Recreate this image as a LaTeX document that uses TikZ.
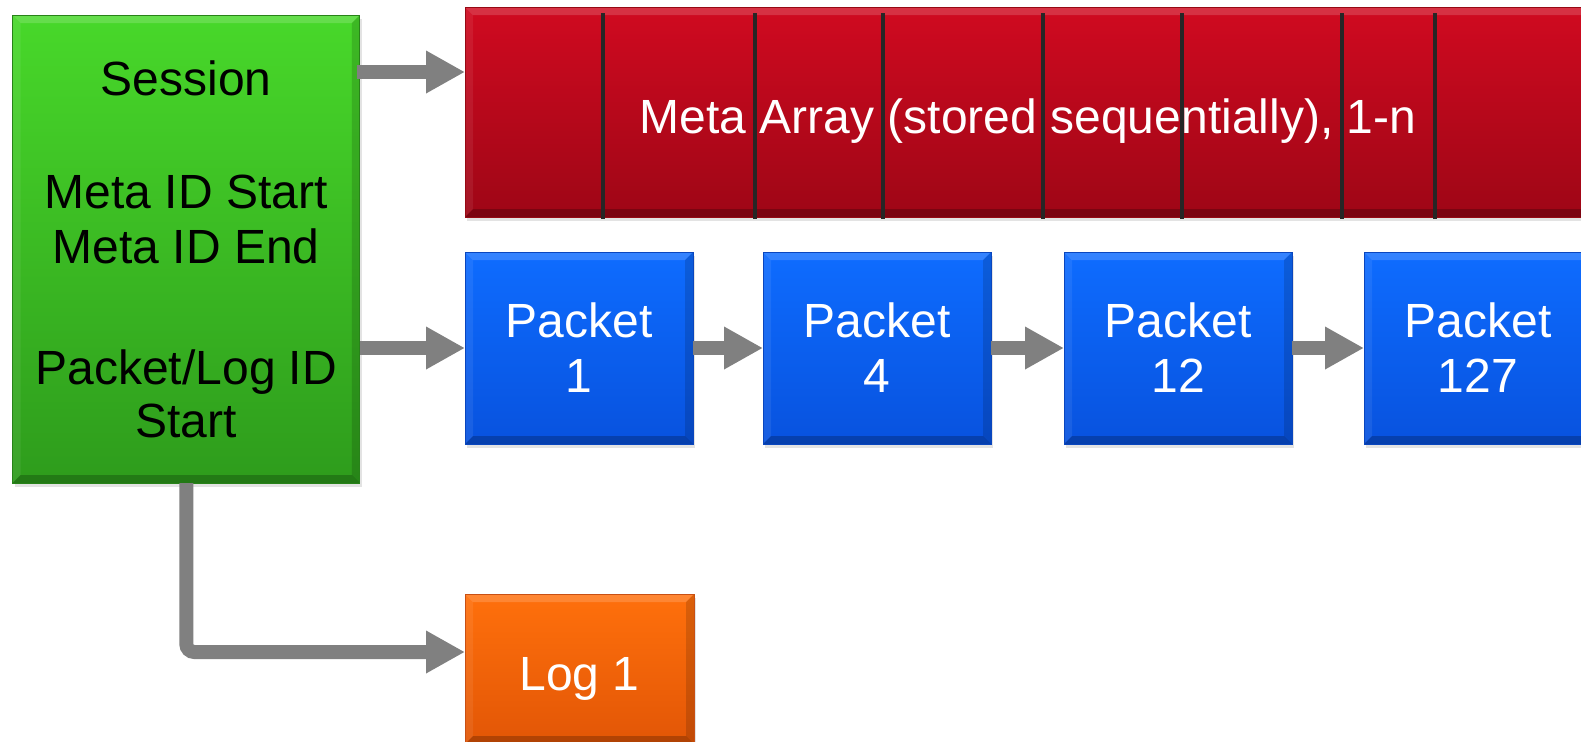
\documentclass[tikz,border=0pt]{standalone}
\usepackage{fontspec}
\setmainfont{Liberation Sans}
\usetikzlibrary{arrows.meta,shadows}
\definecolor{grnT}{RGB}{72,216,42}
\definecolor{grnB}{RGB}{46,156,28}
\definecolor{grnE}{RGB}{40,130,25}
\definecolor{redT}{RGB}{208,10,32}
\definecolor{redB}{RGB}{158,6,22}
\definecolor{redE}{RGB}{150,10,20}
\definecolor{bluT}{RGB}{14,108,255}
\definecolor{bluB}{RGB}{8,82,222}
\definecolor{bluE}{RGB}{10,70,190}
\definecolor{orgT}{RGB}{255,112,12}
\definecolor{orgB}{RGB}{226,86,6}
\definecolor{orgE}{RGB}{200,80,20}
\definecolor{arrgray}{RGB}{128,128,128}
\definecolor{divcol}{RGB}{38,38,38}
\tikzset{
  bevel/.style={path picture={
    \path (path picture bounding box.south west) coordinate (pSW)
          (path picture bounding box.north east) coordinate (pNE)
          (path picture bounding box.north west) coordinate (pNW)
          (path picture bounding box.south east) coordinate (pSE);
    \fill[white,opacity=.16] (pNW) -- (pNE) -- ([shift={(-4pt,-4pt)}]pNE) -- ([shift={(4pt,-4pt)}]pNW) -- cycle;
    \fill[white,opacity=.07] (pNW) -- (pSW) -- ([shift={(4pt,4pt)}]pSW) -- ([shift={(4pt,-4pt)}]pNW) -- cycle;
    \fill[black,opacity=.14] (pNE) -- (pSE) -- ([shift={(-4pt,4pt)}]pSE) -- ([shift={(-4pt,-4pt)}]pNE) -- cycle;
    \fill[black,opacity=.22] (pSW) -- (pSE) -- ([shift={(-4pt,4pt)}]pSE) -- ([shift={(4pt,4pt)}]pSW) -- cycle;
  }},
  box/.style={rectangle, inner sep=0pt, outer sep=0pt, line width=0.5pt,
    anchor=north west, align=center, text=white,
    font=\fontsize{24}{27.5}\selectfont, bevel,
    drop shadow={opacity=0.22, shadow xshift=1pt, shadow yshift=-2pt}},
  greenbox/.style={box, top color=grnT, bottom color=grnB, draw=grnE, text=black},
  redbox/.style={box, top color=redT, bottom color=redB, draw=redE},
  bluebox/.style={box, top color=bluT, bottom color=bluB, draw=bluE,
    minimum width=114pt, minimum height=96pt, text depth=-4pt},
  orangebox/.style={box, top color=orgT, bottom color=orgB, draw=orgE},
  arr/.style={draw=arrgray, line width=7pt,
    -{Triangle[length=19.5pt, width=20pt]}},
  divider/.style={draw=divcol, line width=2.2pt}
}
\begin{document}
\begin{tikzpicture}[x=0.5pt, y=-0.5pt]
\useasboundingbox (0,0) rectangle (1581,741);
\clip (0,0) rectangle (1581,741);

\node[greenbox, minimum width=173.6pt, minimum height=234pt, text depth=-5pt] (session) at (12.7,15)
  {Session\\[29pt]Meta ID Start\\Meta ID End\\[33pt]Packet/Log ID\\[-1pt]Start};

\node[redbox, minimum width=563pt, minimum height=105pt, text height=21pt, text depth=0pt] (meta) at (465,7)
  {Meta Array (stored sequentially), 1-n};

\foreach \x in {603,755,883,1043,1182,1342,1435}
  \draw[divider] (\x,13) -- (\x,219);

\node[bluebox] (p1) at (465,252) {Packet\\1};
\node[bluebox] (p2) at (763,252) {Packet\\4};
\node[bluebox] (p3) at (1064,252) {Packet\\12};
\node[bluebox] (p4) at (1364,252) {Packet\\127};

\node[orangebox, minimum width=114.5pt, minimum height=75pt, text height=21pt, text depth=0pt] (log) at (465,594) {Log 1};

\coordinate (ya) at (0,72);
\coordinate (yl) at (0,652);

\draw[arr] ([xshift=-1.5pt]session.east |- ya) -- (meta.west |- ya);
\draw[arr] (session.east |- p1.west) -- (p1.west);
\draw[arr] (p1.east) -- (p2.west);
\draw[arr] (p2.east) -- (p3.west);
\draw[arr] (p3.east) -- (p4.west);
\draw[arr, rounded corners=4pt] (session.south) -- (session.south |- yl) -- (log.west |- yl);
\end{tikzpicture}
\end{document}
